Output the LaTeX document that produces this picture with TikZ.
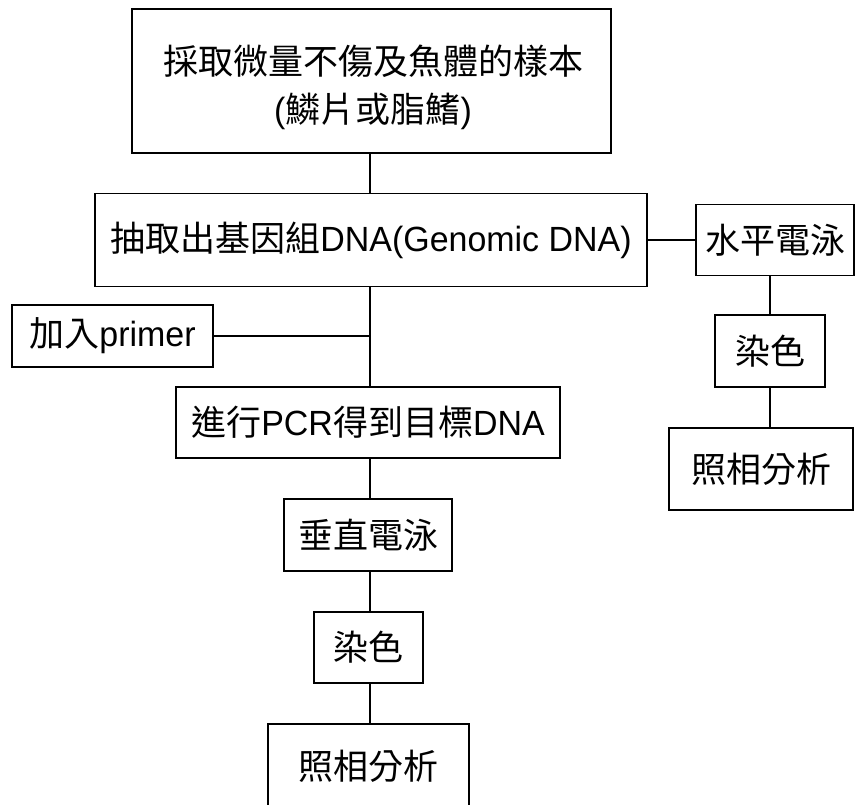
\documentclass[tikz,border=0pt]{standalone}
\usepackage{fontspec}
\setmainfont{Noto Sans CJK TC}
\newfontfamily\lat{Liberation Sans}[FakeStretch=0.97]
\begin{document}
\begin{tikzpicture}[x=1pt,y=-1pt,
  box/.style={draw, line width=1.1pt, inner sep=0pt, align=center,
    font=\fontsize{35}{48}\selectfont},
  link/.style={line width=1.1pt}]
\useasboundingbox (0,0) rectangle (864,804);
\clip (0,0) rectangle (864,804);
\fill[white] (0,0) rectangle (864,804);
% main column
\node[box, minimum width=479pt, minimum height=144pt] (n1) at (371.5,81) {};
\node[font=\fontsize{35}{48}\selectfont, align=center] (n1t) at (373,87)
  {採取微量不傷及魚體的樣本\\{\lat(}鱗片或脂鰭{\lat)}};
\node[box, minimum width=552pt, minimum height=93pt] (n2) at (371,240)
  {抽取出基因組{\lat DNA(Genomic DNA)}};
\node[box, minimum width=201pt, minimum height=62pt] (primer) at (112.5,336)
  {加入{\lat primer}};
\node[box, minimum width=384pt, minimum height=71pt] (pcr) at (368,422.5)
  {進行{\lat PCR}得到目標{\lat DNA}};
\node[box, minimum width=168pt, minimum height=72pt] (vert) at (368,535)
  {垂直電泳};
\node[box, minimum width=109pt, minimum height=71pt] (dye1) at (368.5,647.5)
  {染色};
\node[box, minimum width=201pt, minimum height=84pt] (photo1) at (368.5,766)
  {照相分析};
% right column
\node[box, minimum width=158pt, minimum height=71pt] (horiz) at (775,240)
  {水平電泳};
\node[box, minimum width=110pt, minimum height=72pt] (dye2) at (770,351)
  {染色};
\node[box, minimum width=184pt, minimum height=82pt] (photo2) at (761,469)
  {照相分析};
% connectors
\coordinate (trunk) at (370,0);
\coordinate (j) at (370,336);
\coordinate (rt) at (770,0);
\draw[link] (n1.south -| trunk) -- (n2.north -| trunk);
\draw[link] (n2.south -| trunk) -- (pcr.north -| trunk);
\draw[link] (primer.east) -- (j);
\draw[link] (pcr.south -| trunk) -- (vert.north -| trunk);
\draw[link] (vert.south -| trunk) -- (dye1.north -| trunk);
\draw[link] (dye1.south -| trunk) -- (photo1.north -| trunk);
\draw[link] (n2.east) -- (horiz.west);
\draw[link] (horiz.south -| rt) -- (dye2.north -| rt);
\draw[link] (dye2.south -| rt) -- (photo2.north -| rt);
\end{tikzpicture}
\end{document}
